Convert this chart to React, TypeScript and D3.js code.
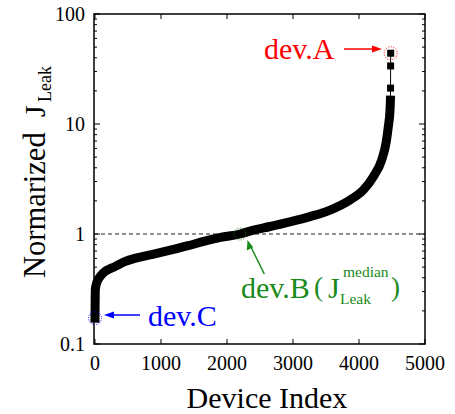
import React from "react";
import * as d3 from "d3";

// Sorted device data (index, normalized J_Leak)
const curveIndex = [0, 2, 5, 20, 45, 90, 147, 220, 298, 450, 602, 750, 905, 1156, 1409, 1662, 1900, 2197, 2348, 2652, 2955, 3258, 3561, 3864, 4065, 4217, 4344, 4409, 4444, 4470, 4476];
const curveValue = [0.172, 0.226, 0.31, 0.35, 0.382, 0.42, 0.454, 0.48, 0.504, 0.56, 0.6, 0.63, 0.66, 0.716, 0.783, 0.86, 0.93, 1.0, 1.06, 1.17, 1.29, 1.44, 1.65, 2.04, 2.51, 3.32, 4.71, 6.68, 9.45, 13.4, 16.5];
// isolated outliers at the top tail
const tailIndex = [4476, 4478, 4479, 4480];
const tailValue = [16.5, 21.2, 33.7, 44];

const xTicks = [0, 1000, 2000, 3000, 4000, 5000];
const yTicks = [0.1, 1, 10, 100];
const yTickLabels = ["0.1", "1", "10", "100"];

const devA = { index: 4480, value: 44 };
const devB = { index: 2197, value: 1.0 };
const devC = { index: 0, value: 0.172 };

const W = 455, H = 414;
const L = 94, R = 425, T = 14, B = 344;

export default function App() {
  const x = d3.scaleLinear().domain([-15, 5000]).range([L, R]);
  const y = d3.scaleLog().domain([0.1, 100]).range([B, T]);

  const pts: [number, number][] = curveIndex.map((d, i) => [x(d), y(curveValue[i])]);
  const tailPts: [number, number][] = tailIndex.map((d, i) => [x(d), y(tailValue[i])]);
  const line = d3.line().curve(d3.curveMonotoneX);
  const lineLin = d3.line();

  const minor: number[] = [];
  for (let e = -1; e < 2; e++) for (let k = 2; k <= 9; k++) minor.push(k * Math.pow(10, e));

  const font = "Liberation Serif, DejaVu Serif, serif";
  const ax = x(devA.index), ay = y(devA.value);
  const bx = x(devB.index), by = y(devB.value);
  const cx = x(devC.index), cy = y(devC.value);
  const ts = { fontFamily: font };

  return (
    <svg width={W} height={H} style={{ position: "absolute", left: 0, top: 0, background: "#fff", fontFamily: font }}>
      {/* dashed median line */}
      <line x1={L} x2={R} y1={y(1)} y2={y(1)} stroke="#222" strokeWidth={1} strokeDasharray="4,3" />
      {/* thick data band */}
      <path d={line(pts) || ""} fill="none" stroke="#000" strokeWidth={9} strokeLinecap="square" strokeLinejoin="round" />
      <path d={lineLin(tailPts) || ""} fill="none" stroke="#000" strokeWidth={1} />
      {tailPts.map((p, i) => (
        <rect key={i} x={p[0] - 3.5} y={p[1] - 3.5} width={7} height={7} fill="#000" />
      ))}
      {/* frame */}
      <rect x={L} y={T} width={R - L} height={B - T} fill="none" stroke="#000" strokeWidth={1.5} />
      {/* x ticks */}
      {xTicks.map((t) => (
        <g key={t}>
          <line x1={x(t)} x2={x(t)} y1={B} y2={B - 5} stroke="#000" strokeWidth={1} />
          <line x1={x(t)} x2={x(t)} y1={T} y2={T + 5} stroke="#000" strokeWidth={1} />
          <text style={ts} x={x(t)} y={370} fontSize={20} textAnchor="middle">{t}</text>
        </g>
      ))}
      {/* y ticks */}
      {yTicks.map((t, i) => (
        <g key={t}>
          <line x1={L} x2={L + 6} y1={y(t)} y2={y(t)} stroke="#000" strokeWidth={1} />
          <line x1={R} x2={R - 6} y1={y(t)} y2={y(t)} stroke="#000" strokeWidth={1} />
          <text style={ts} x={85} y={y(t) + 7} fontSize={20} textAnchor="end">{yTickLabels[i]}</text>
        </g>
      ))}
      {minor.map((t) => (
        <g key={"m" + t}>
          <line x1={L} x2={L + 3} y1={y(t)} y2={y(t)} stroke="#000" strokeWidth={1} />
          <line x1={R} x2={R - 3} y1={y(t)} y2={y(t)} stroke="#000" strokeWidth={1} />
        </g>
      ))}
      {/* axis titles */}
      <text style={ts} x={267} y={408} fontSize={30} textAnchor="middle">Device Index</text>
      <g transform="translate(45,278) rotate(-90)">
        <text style={ts} x={0} y={0} fontSize={30.5}>Normarized</text>
        <text style={ts} x={161} y={0} fontSize={30}>J</text>
        <text style={ts} x={176} y={6} fontSize={18}>Leak</text>
      </g>
      {/* dev.A */}
      <circle cx={ax} cy={ay} r={6.5} fill="none" stroke="red" strokeWidth={1} strokeDasharray="1,1.5" />
      <text style={ts} x={264} y={59} fontSize={30} fill="red">dev.A</text>
      <line x1={344} x2={378} y1={49} y2={49} stroke="red" strokeWidth={1.5} />
      <path d="M382,49 L372,45.5 L372,52.5 Z" fill="red" />
      {/* dev.B */}
      <circle cx={bx} cy={by} r={6} fill="none" stroke="#1a8a1a" strokeWidth={1} strokeDasharray="1,1.5" />
      <line x1={264.3} y1={274} x2={249.5} y2={244} stroke="#1a8a1a" strokeWidth={1.5} />
      <path d="M247.5,240 L246.8,250.5 L253.2,247.3 Z" fill="#1a8a1a" />
      <text style={ts} x={241} y={298} fontSize={30} fill="#1a8a1a">dev.B</text>
      <text style={ts} x={314} y={296} fontSize={27} fill="#1a8a1a">(</text>
      <text style={ts} x={328} y={298} fontSize={30} fill="#1a8a1a">J</text>
      <text style={ts} x={343} y={277} fontSize={15.5} fill="#1a8a1a">median</text>
      <text style={ts} x={340} y={304} fontSize={15.5} fill="#1a8a1a">Leak</text>
      <text style={ts} x={391} y={296} fontSize={27} fill="#1a8a1a">)</text>
      {/* dev.C */}
      <circle cx={cx} cy={cy} r={6.5} fill="none" stroke="blue" strokeWidth={1} strokeDasharray="1,1.5" />
      <line x1={108} x2={140} y1={315} y2={315} stroke="blue" strokeWidth={1.5} />
      <path d="M104,315 L114,311.5 L114,318.5 Z" fill="blue" />
      <text style={ts} x={148} y={326} fontSize={30} fill="blue">dev.C</text>
    </svg>
  );
}
